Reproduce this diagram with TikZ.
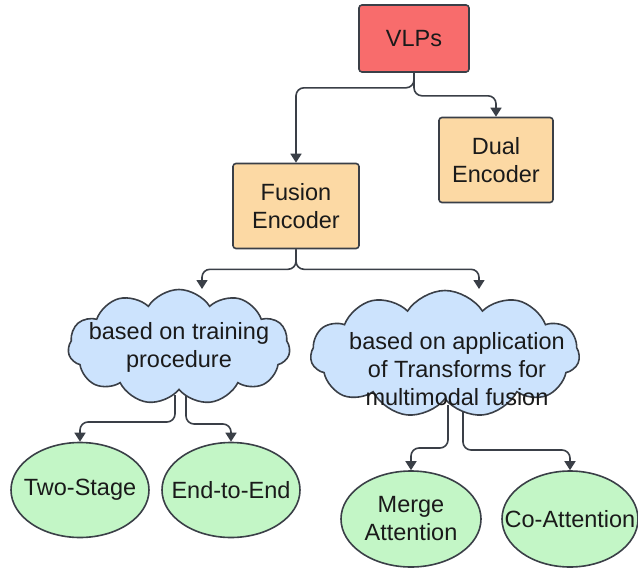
\documentclass[tikz,border=0pt]{standalone}
\usepackage{fontspec}
\setmainfont{Liberation Sans}
\usetikzlibrary{shapes.geometric,shapes.symbols,arrows.meta,backgrounds}
\definecolor{vlpred}{HTML}{F86C6C}
\definecolor{encorange}{HTML}{FCD9A4}
\definecolor{cloudblue}{HTML}{CCE3FD}
\definecolor{leafgreen}{HTML}{C3F6C6}
\definecolor{edgec}{HTML}{3A3F47}
\definecolor{inkc}{HTML}{1A1A1A}
\begin{document}
\begin{tikzpicture}[x=1pt,y=-1pt,
  every node/.style={font=\fontsize{23.5}{28}\selectfont, text=inkc},
  boxbase/.style={draw=edgec, line width=1.6pt, rounded corners=3pt, align=center, inner sep=0pt, minimum height=85pt},
  redbox/.style={boxbase, fill=vlpred, minimum width=110pt, minimum height=67pt},
  orangebox/.style={boxbase, fill=encorange},
  cloudbox/.style={cloud, cloud puffs=11, cloud puff arc=115, cloud ignores aspect, draw=edgec, line width=1.6pt, fill=cloudblue, inner sep=0pt},
  leaf/.style={ellipse, draw=edgec, line width=1.6pt, fill=leafgreen, inner sep=0pt},
  conn/.style={draw=edgec, line width=1.6pt, rounded corners=8pt, -{Triangle[width=11pt,length=9pt]}}
]
\useasboundingbox (0,0) rectangle (638,568);

% top level
\node[redbox] (vlp) at (414,38.5) {VLPs};
\node[orangebox, minimum width=126pt] (fus) at (296,206) {Fusion\\Encoder};
\node[orangebox, minimum width=114pt] (dual) at (496,160) {Dual\\Encoder};

% category clouds
\node[cloudbox, minimum width=222pt, minimum height=115pt,
      label={[align=center]center:{based on training\\procedure}}] (lc) at (179,347) {};
\node[cloudbox, minimum width=269pt, minimum height=127pt,
      label={[align=center, yshift=-15pt, xshift=12pt]center:{based on application\\of Transforms for\\multimodal fusion}}] (rc) at (445,354) {};

% leaves
\node[leaf, minimum width=138pt, minimum height=95pt, label=center:{Two-Stage}] (ts) at (80,490) {};
\node[leaf, minimum width=138pt, minimum height=95pt, label=center:{End-to-End}] (ee) at (231,490) {};
\node[leaf, minimum width=140pt, minimum height=96pt, label={[align=center]center:{Merge\\Attention}}] (ma) at (411,519) {};
\node[leaf, minimum width=136pt, minimum height=96pt, label=center:{Co-Attention}] (ca) at (570,519) {};

% connector ends on the clouds (outgoing ones start inside, hidden by the fill)
\coordinate (lcin) at (202,289);
\coordinate (rcin) at (479,289);
\coordinate (lcoutA) at (175,395);
\coordinate (lcoutB) at (186,395);
\coordinate (rcoutA) at (448,405);
\coordinate (rcoutB) at (463,405);

% connectors
\draw[conn] (vlp.south) -- ++(0,15) -| (fus.north);
\draw[conn] (vlp.south) -- ++(0,23) -| (dual.north);
\draw[conn] (fus.south) -- ++(0,20) -| (lcin);
\draw[conn] (fus.south) -- ++(0,20) -| (rcin);
\begin{scope}[on background layer]
\draw[conn] (lcoutA) -- ++(0,27) -| (ts.north);
\draw[conn] (lcoutB) -- ++(0,29) -| (ee.north);
\draw[conn] (rcoutA) -- ++(0,43) -| (ma.north);
\draw[conn] (rcoutB) -- ++(0,45) -| (ca.north);
\end{scope}
\end{tikzpicture}
\end{document}
